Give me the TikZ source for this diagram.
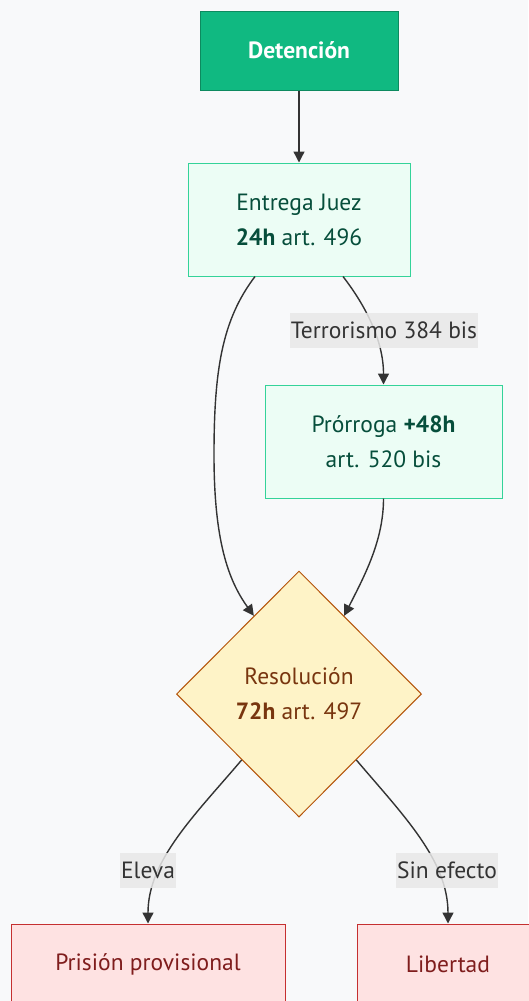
\documentclass[tikz,border=0pt]{standalone}
\usepackage{fontspec}
\setmainfont{PT Sans}
\usetikzlibrary{shapes.geometric,arrows.meta}
\definecolor{bg}{HTML}{F8F9FA}
\definecolor{detfill}{HTML}{10B981}
\definecolor{detline}{HTML}{0D8A5F}
\definecolor{gfill}{HTML}{ECFDF5}
\definecolor{gline}{HTML}{34D399}
\definecolor{gtext}{HTML}{064E3B}
\definecolor{yfill}{HTML}{FEF3C7}
\definecolor{yline}{HTML}{B45309}
\definecolor{ytext}{HTML}{78350F}
\definecolor{rfill}{HTML}{FEE2E2}
\definecolor{rline}{HTML}{C53030}
\definecolor{rtext}{HTML}{7F1D1D}
\definecolor{edge}{HTML}{333333}
\definecolor{lblbg}{HTML}{E8E8E8}
\begin{document}
\begin{tikzpicture}[x=1pt,y=-1pt,
  every node/.style={font=\fontsize{23.5}{35}\selectfont, align=center, inner sep=0pt},
  detbox/.style={draw=detline, fill=detfill, text=white, line width=1pt, font=\fontsize{23.5}{35}\selectfont\bfseries},
  gbox/.style={draw=gline, fill=gfill, text=gtext, line width=1pt},
  ybox/.style={diamond, draw=yline, fill=yfill, text=ytext, line width=1pt, minimum width=245pt, minimum height=246pt},
  rbox/.style={draw=rline, fill=rfill, text=rtext, line width=1pt},
  conn/.style={draw=edge, line width=1.4pt, -{Triangle[length=11pt,width=11pt]}},
  lbl/.style={fill=lblbg, fill opacity=0.85, text opacity=1, text=edge, inner xsep=1pt, minimum height=35pt}
]
\useasboundingbox[fill=bg] (0,0) rectangle (528,1001);

\node[detbox, minimum width=198pt, minimum height=79pt] (det) at (299,50.5) {Detención};
\node[gbox, minimum width=222pt, minimum height=113pt] (ej) at (299,219.5) {Entrega Juez\\\textbf{24h} art. 496};
\node[gbox, minimum width=237pt, minimum height=113pt] (pr) at (383.5,441.5) {Prórroga \textbf{+48h}\\art. 520 bis};
\node[ybox] (res) at (299,694) {Resolución\\\textbf{72h} art. 497};
\node[rbox, minimum width=274pt, minimum height=80pt] (pp) at (148,964) {Prisión provisional};
\node[rbox, minimum width=182pt, minimum height=80pt] (lib) at (448,964) {Libertad};

\draw[conn] (det) -- (ej);
\draw[conn] ([xshift=-44pt]ej.south) .. controls (222,320) and (214,370) .. (214,455)
  .. controls (214,540) and (228,580) .. (res.120);
\draw[conn] ([xshift=44pt]ej.south) .. controls (365,305) and (383.5,340) .. (pr.north);
\draw[conn] (pr.south) .. controls (383.5,540) and (365,575) .. (res.60);
\draw[conn] (res.229) .. controls (195,815) and (148,860) .. (pp.north);
\draw[conn] (res.-49) .. controls (403,815) and (448,860) .. (lib.north);

\node[lbl] (l1) at (384,330.5) {Terrorismo 384 bis};
\node[lbl] (l2) at (148,870.5) {Eleva};
\node[lbl] (l3) at (447,870.5) {Sin efecto};
\end{tikzpicture}
\end{document}
